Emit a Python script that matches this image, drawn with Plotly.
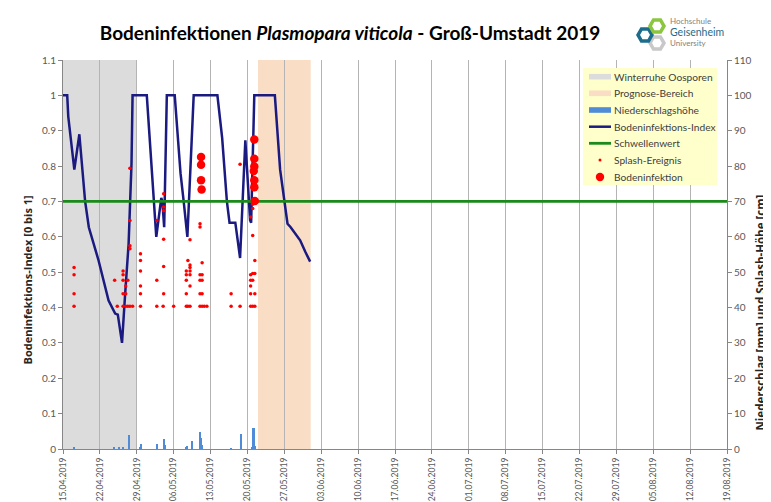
import math

import pandas as pd
import plotly.graph_objects as go

# --- data ---
start = pd.Timestamp("2019-04-15")
end = pd.Timestamp("2019-08-19")

# Bodeninfektions-Index (day offset from 15.04.2019, index 0..1)
index_days = [0, 0.8, 1.0, 2.15, 3.1, 4.2, 4.9, 5.8, 6.75, 8.65, 9.9, 10.4, 11.2,
              11.8, 12.45, 13.0, 13.2, 15.9, 17.7, 18.65, 18.85, 19.2, 19.7, 21.2,
              22.3, 22.9, 23.6, 24.8, 29.3, 30.2, 31.1, 31.6, 32.7, 33.6, 34.6,
              35.5, 35.7, 36.3, 40.2, 41.2, 42.0, 42.6, 43.2, 44.1, 45.0, 46.0, 46.9]
index_vals = [1.0, 1.0, 0.94, 0.79, 0.89, 0.70, 0.627, 0.58, 0.533, 0.42, 0.383, 0.38, 0.30,
              0.44, 0.58, 0.807, 1.0, 1.0, 0.60, 0.71, 0.70, 0.627, 1.0, 1.0,
              0.78, 0.70, 0.60, 1.0, 1.0, 0.88, 0.70, 0.64, 0.64, 0.54, 0.873,
              0.647, 0.64, 1.0, 1.0, 0.79, 0.70, 0.637, 0.627, 0.61, 0.59, 0.557, 0.53]

threshold = 0.7

# Niederschlagshoehe [mm]
rain_days = [2.1, 9.8, 10.6, 11.4, 12.5, 12.65, 14.6, 14.8, 17.9, 19.2, 19.4, 23.4, 23.6,
             24.6, 26.1, 26.3, 26.5, 31.9, 33.8, 35.9, 36.1, 36.2, 36.35, 36.5]
rain_mm = [0.5, 0.3, 0.3, 0.5, 1.0, 3.9, 0.6, 1.3, 1.5, 2.8, 1.0, 0.5, 0.8,
           2.3, 4.7, 3.0, 1.0, 0.2, 4.3, 0.5, 3.6, 5.9, 2.0, 0.8]

# Splash-Ereignis [cm]
splash_days = [2.1, 2.1, 2.1, 2.1, 9.8, 10.3, 11.4, 11.4, 11.4, 11.4, 11.4,
               11.9, 11.9, 11.9, 12.3, 12.3, 12.7, 12.7, 12.7, 12.7, 12.7, 13.2,
               14.7, 14.7, 14.7, 14.7, 14.7, 14.7, 17.8, 17.8, 17.8,
               19.1, 19.1, 19.1, 19.1, 19.1, 19.1, 19.0, 21.0,
               23.4, 23.4, 23.4, 23.4, 23.4, 23.7, 23.7,
               24.1, 24.1, 24.1, 24.1, 24.1, 24.1, 24.1,
               26.0, 26.0, 26.0, 26.0, 26.0, 26.0, 26.4, 26.4, 26.4, 26.4, 26.4,
               26.8, 27.3, 31.9, 31.9, 33.6, 33.6,
               35.6, 35.6, 35.6, 35.6, 35.6, 35.6,
               36.0, 36.0, 36.0, 36.0, 36.0, 36.0, 36.4, 36.4, 36.4, 36.4]
splash_cm = [51.3, 49.3, 43.9, 40.4, 47.7, 40.4, 50.3, 49.3, 47.7, 43.9, 40.4,
             43.9, 40.4, 46.1, 40.4, 47.7, 79.4, 64.6, 57.5, 56.6, 40.4, 40.4,
             55.2, 53.3, 50.3, 46.1, 43.9, 40.4, 64.6, 47.7, 40.4,
             72.2, 68.4, 67.4, 59.3, 51.6, 43.9, 40.4, 40.4,
             50.3, 49.3, 47.7, 43.9, 40.4, 53.3, 40.4,
             52.0, 51.3, 49.3, 50.3, 46.1, 40.4, 59.2,
             63.7, 62.8, 49.3, 47.7, 43.9, 40.4, 49.3, 47.7, 43.9, 40.4, 52.7,
             40.4, 40.4, 43.9, 40.4, 80.5, 40.4,
             49.3, 47.7, 46.1, 43.9, 40.4, 65.6,
             69.2, 68.0, 60.4, 40.4, 49.6, 47.7, 53.3, 49.6, 43.9, 40.4]

# Bodeninfektion [cm]
infect_days = [26.2, 26.2, 26.2, 26.3, 36.3, 36.3, 36.3, 36.2, 36.3, 36.3, 36.4]
infect_cm = [82.6, 80.4, 76.0, 73.4, 87.5, 82.1, 79.9, 78.6, 76.0, 74.0, 70.1]

winter_period = ["2019-04-15", "2019-04-29"]
forecast_period = ["2019-05-22", "2019-06-01"]

legend_labels = ["Winterruhe Oosporen", "Prognose-Bereich", "Niederschlagshöhe",
                 "Bodeninfektions-Index", "Schwellenwert", "Splash-Ereignis", "Bodeninfektion"]

C_WINTER = "#DCDCDC"
C_PROG = "#FADDC5"
C_RAIN = "#4F8BD6"
C_INDEX = "#1A1A80"
C_THRESH = "#1A8A1A"
C_RED = "#FF0000"


def to_dates(days):
    return [start + pd.Timedelta(days=d) for d in days]


FONT = "Lato"
WIDE = "Open Sans"
GRAY_TXT = "#595959"
PAGE_OFF = 8  # body margin of the html page

# plot area in screen pixels (used only for decoration placement)
X0, X1, Y0, Y1 = 63, 727, 60, 449


def px(x):
    return (x - X0) / (X1 - X0)


def py(y):
    return (Y1 - y) / (Y1 - Y0)


fig = go.Figure()

fig.add_trace(go.Bar(x=to_dates(rain_days), y=rain_mm, yaxis="y2", name="Niederschlagshöhe",
                     width=0.3 * 86400000, marker=dict(color=C_RAIN, line=dict(width=0))))
fig.add_trace(go.Scatter(x=to_dates(index_days), y=index_vals, name="Bodeninfektions-Index",
                         mode="lines", line=dict(color=C_INDEX, width=2.5)))
fig.add_trace(go.Scatter(x=[start, end], y=[threshold, threshold], name="Schwellenwert",
                         mode="lines", line=dict(color=C_THRESH, width=2.8)))
fig.add_trace(go.Scatter(x=to_dates(splash_days), y=splash_cm, yaxis="y2", name="Splash-Ereignis",
                         mode="markers", marker=dict(color=C_RED, size=3.5)))
fig.add_trace(go.Scatter(x=to_dates(infect_days), y=infect_cm, yaxis="y2", name="Bodeninfektion",
                         mode="markers", marker=dict(color=C_RED, size=8.5)))

shapes = [
    dict(type="rect", xref="x", yref="paper", x0=winter_period[0], x1=winter_period[1],
         y0=0, y1=1, fillcolor=C_WINTER, line=dict(width=0), layer="below"),
    dict(type="rect", xref="x", yref="paper", x0=forecast_period[0], x1=forecast_period[1],
         y0=0, y1=1, fillcolor=C_PROG, line=dict(width=0), layer="below"),
]

annotations = []

# hand-drawn legend box (Excel style)
shapes.append(dict(type="rect", xref="paper", yref="paper", x0=px(583), x1=px(717),
                   y0=py(185), y1=py(68), fillcolor="#FFFFCC", line=dict(width=0),
                   layer="above"))
rows = [76.7, 93.3, 110, 126.7, 143.3, 160, 177]
ix0, ix1 = 589, 611
for i, (label, ry) in enumerate(zip(legend_labels, rows)):
    if i < 3:
        col = [C_WINTER, C_PROG, C_RAIN][i]
        shapes.append(dict(type="rect", xref="paper", yref="paper", x0=px(ix0), x1=px(ix1),
                           y0=py(ry + 2.8), y1=py(ry - 2.8), fillcolor=col,
                           line=dict(width=0), layer="above"))
    elif i < 5:
        col = [C_INDEX, C_THRESH][i - 3]
        shapes.append(dict(type="line", xref="paper", yref="paper", x0=px(ix0), x1=px(ix1),
                           y0=py(ry), y1=py(ry), line=dict(color=col, width=[2.5, 2.8][i - 3]),
                           layer="above"))
    else:
        r = [1.5, 4.2][i - 5]
        cx = (ix0 + ix1) / 2
        shapes.append(dict(type="circle", xref="paper", yref="paper", x0=px(cx - r),
                           x1=px(cx + r), y0=py(ry + r), y1=py(ry - r), fillcolor=C_RED,
                           line=dict(width=0), layer="above"))
    annotations.append(dict(text=label, xref="paper", yref="paper", x=px(612), y=py(ry),
                            xanchor="left", yanchor="middle", showarrow=False,
                            font=dict(family=FONT, size=10.2, color="#404040")))


# logo: three hexagons
def hexagon(cx, cy, r):
    pts = []
    for k in range(6):
        a = math.radians(60 * k)
        pts.append((px(cx + r * math.cos(a)), py(cy + r * math.sin(a))))
    return "M " + " L ".join(f"{a:.4f},{b:.4f}" for a, b in pts) + " Z"


for cx, cy, col in [(657, 43, "#C8C8C8"), (645, 35, "#1C6C8C"), (657, 26, "#8CC63E")]:
    shapes.append(dict(type="path", xref="paper", yref="paper", path=hexagon(cx, cy, 7),
                       line=dict(color=col, width=3.5), layer="above"))

annotations += [
    dict(text="<b>Bodeninfektions-Index [0 bis 1]</b>", xref="paper", yref="paper",
         x=px(17), y=py(280), textangle=-90, showarrow=False,
         font=dict(family=WIDE, size=11, color="#262626")),
    dict(text="<b>Niederschlag [mm] und Splash-Höhe [cm]</b>", xref="paper", yref="paper",
         x=px(769), y=py(312), textangle=-90, showarrow=False,
         font=dict(family=WIDE, size=11.5, color="#262626")),
    dict(text="Hochschule", xref="paper", yref="paper", x=px(668), y=py(21),
         xanchor="left", yanchor="middle", showarrow=False,
         font=dict(family=FONT, size=8, color="#7F7F7F")),
    dict(text="Geisenheim", xref="paper", yref="paper", x=px(668), y=py(32),
         xanchor="left", yanchor="middle", showarrow=False,
         font=dict(family=FONT, size=10.5, color="#1C6C8C")),
    dict(text="University", xref="paper", yref="paper", x=px(668), y=py(43),
         xanchor="left", yanchor="middle", showarrow=False,
         font=dict(family=FONT, size=8, color="#7F7F7F")),
]

W, H = 771 - PAGE_OFF, 502 - PAGE_OFF
fig.update_layout(
    width=W,
    height=H,
    template="none",
    margin=dict(l=X0 - PAGE_OFF, r=771 - X1, t=Y0 - PAGE_OFF, b=502 - Y1),
    paper_bgcolor="white",
    plot_bgcolor="white",
    showlegend=False,
    font=dict(family=FONT, size=10, color=GRAY_TXT),
    title=dict(text="<b>Bodeninfektionen <i>Plasmopara viticola</i> - Groß-Umstadt 2019</b>",
               x=(350 - PAGE_OFF) / W, xanchor="center", y=1 - (33 - PAGE_OFF) / H,
               yanchor="middle", font=dict(family=FONT, size=19, color="#000000")),
    xaxis=dict(type="date", range=[start, end], tick0=start, dtick=7 * 86400000,
               tickformat="%d.%m.%Y", tickangle=-90, showgrid=True, gridcolor="#B4B4B4",
               gridwidth=1, showline=True, linecolor="#868686", ticks="outside",
               ticklen=4, tickcolor="#868686", zeroline=False,
               tickfont=dict(size=8.6, color=GRAY_TXT)),
    yaxis=dict(range=[0, 1.1], dtick=0.1, showgrid=False, zeroline=False, showline=True,
               linecolor="#868686", ticks="outside", ticklen=4, tickcolor="#868686",
               tickformat="~g", tickfont=dict(size=10, color=GRAY_TXT)),
    yaxis2=dict(range=[0, 110], dtick=10, overlaying="y", side="right", showgrid=False,
                zeroline=False, showline=True, linecolor="#868686", ticks="outside",
                ticklen=4, tickcolor="#868686", tickfont=dict(size=10, color=GRAY_TXT)),
    bargap=0,
    shapes=shapes,
    annotations=annotations,
)

fig.write_html("out.html")
